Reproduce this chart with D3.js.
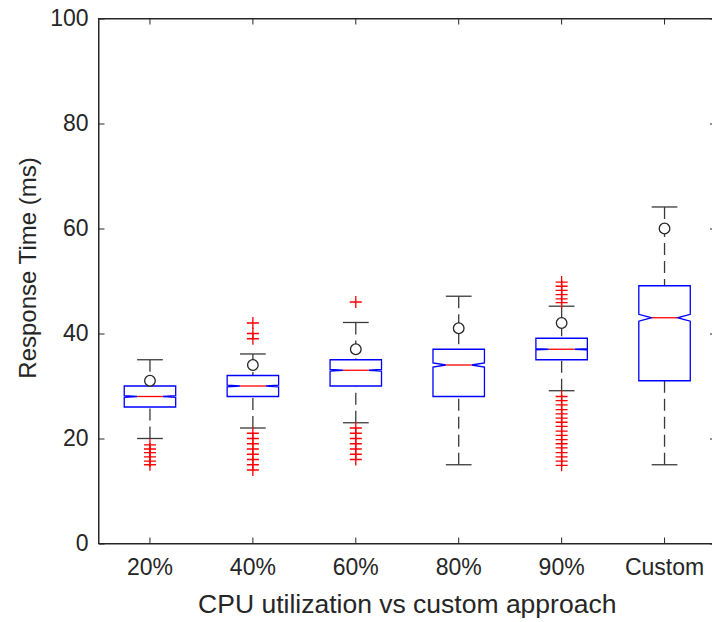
<!DOCTYPE html>
<html>
<head>
<meta charset="utf-8">
<script src="https://cdn.jsdelivr.net/npm/d3@7"></script>
<style>
  html, body { margin: 0; padding: 0; background: #fff; }
  svg { display: block; }
  text { font-family: "Liberation Sans", Arial, Helvetica, sans-serif; fill: #262626; }
</style>
</head>
<body>
<svg id="chart" width="712" height="622"></svg>
<script>
// ---- data ----
const categories = ["20%", "40%", "60%", "80%", "90%", "Custom"];
const q1Values      = [26, 28, 30, 28, 35, 31];
const medianValues  = [28, 30, 33, 34, 37, 43];
const q3Values      = [30, 32, 35, 37, 39.1, 49.1];
const notchLow      = [27.85, 29.85, 32.85, 33.6, 36.9, 42.35];
const notchHigh     = [28.15, 30.15, 33.15, 34.4, 37.1, 43.65];
const whiskerLow    = [20, 22, 23, 15, 29.1, 15];
const whiskerHigh   = [35, 36.1, 42.1, 47.1, 45.2, 64.1];
const meanValues    = [31, 34, 37, 41, 42, 60];
const outliers = [
  [18.8, 18.0, 17.3, 16.5, 15.7, 15.0],
  [42, 40, 39, 21, 20, 19, 18, 17, 16, 15, 14],
  [46, 22, 21, 20, 19, 18, 17, 16],
  [],
  [49.8, 49.0, 48.2, 47.4, 46.6, 45.9,
   28.0, 27.2, 26.4, 25.5, 24.7, 23.9, 23.1, 22.3, 21.4, 20.6, 19.8, 19.0, 18.2, 17.3, 16.5, 15.7, 14.9],
  []
];
const yTicks = [0, 20, 40, 60, 80, 100];
const xLabel = "CPU utilization vs custom approach";
const yLabel = "Response Time (ms)";

// ---- layout ----
const svg = d3.select("#chart");
const mLeft = 98.5, mRight = 716, mTop = 18.5, mBottom = 543.5;

const x = d3.scaleBand().domain(categories).range([mLeft, mRight]).paddingInner(0).paddingOuter(0);
const y = d3.scaleLinear().domain([0, 100]).range([mBottom, mTop]);
const cx = c => x(c) + x.bandwidth() / 2;
const boxW = x.bandwidth() * 0.5;
const capW = x.bandwidth() * 0.25;

const axisColor = "#262626";

// frame
svg.append("rect")
  .attr("x", mLeft).attr("y", mTop)
  .attr("width", mRight - mLeft).attr("height", mBottom - mTop)
  .attr("fill", "none").attr("stroke", axisColor).attr("stroke-width", 1);

// axes
const gL = svg.append("g").attr("transform", `translate(${mLeft},0)`)
  .call(d3.axisLeft(y).tickValues(yTicks).tickSize(-6).tickSizeOuter(0).tickPadding(10));
const gR = svg.append("g").attr("transform", `translate(${mRight},0)`)
  .call(d3.axisRight(y).tickValues(yTicks).tickSize(-6).tickSizeOuter(0).tickFormat(""));
const gB = svg.append("g").attr("transform", `translate(0,${mBottom})`)
  .call(d3.axisBottom(x).tickSize(-6).tickSizeOuter(0).tickPadding(15));
const gT = svg.append("g").attr("transform", `translate(0,${mTop})`)
  .call(d3.axisTop(x).tickSize(-6).tickSizeOuter(0).tickFormat(""));

[gL, gR, gB, gT].forEach(g => {
  g.select(".domain").attr("stroke", axisColor);
  g.selectAll(".tick line").attr("stroke", axisColor);
  g.selectAll(".tick text").attr("fill", axisColor)
    .style("font-family", '"Liberation Sans", Arial, sans-serif')
    .style("font-size", "23px");
});

// axis labels
svg.append("text")
  .attr("x", (mLeft + mRight) / 2).attr("y", 613)
  .attr("text-anchor", "middle")
  .style("font-size", "26.5px")
  .text(xLabel);
svg.append("text")
  .attr("transform", `translate(36,268) rotate(-90)`)
  .attr("text-anchor", "middle")
  .style("font-size", "24px")
  .text(yLabel);

// ---- boxes ----
const plot = svg.append("g");
categories.forEach((c, i) => {
  const xc = cx(c);
  const xl = xc - boxW / 2, xr = xc + boxW / 2;
  const ind = boxW / 4;
  const g = plot.append("g");

  // whiskers (dashed) drawn from caps toward box
  g.append("line")
    .attr("x1", xc).attr("x2", xc)
    .attr("y1", y(whiskerLow[i])).attr("y2", y(q1Values[i]))
    .attr("stroke", "#3a3a3a").attr("stroke-width", 1.3)
    .attr("stroke-dasharray", "12,6");
  g.append("line")
    .attr("x1", xc).attr("x2", xc)
    .attr("y1", y(whiskerHigh[i])).attr("y2", y(q3Values[i]))
    .attr("stroke", "#3a3a3a").attr("stroke-width", 1.3)
    .attr("stroke-dasharray", "12,6");
  // caps
  [whiskerLow[i], whiskerHigh[i]].forEach(v => {
    g.append("line")
      .attr("x1", xc - capW / 2).attr("x2", xc + capW / 2)
      .attr("y1", y(v)).attr("y2", y(v))
      .attr("stroke", "#3a3a3a").attr("stroke-width", 1.3);
  });

  // notched box
  const p = d3.path();
  p.moveTo(xl, y(q3Values[i]));
  p.lineTo(xl, y(notchHigh[i]));
  p.lineTo(xl + ind, y(medianValues[i]));
  p.lineTo(xl, y(notchLow[i]));
  p.lineTo(xl, y(q1Values[i]));
  p.lineTo(xr, y(q1Values[i]));
  p.lineTo(xr, y(notchLow[i]));
  p.lineTo(xr - ind, y(medianValues[i]));
  p.lineTo(xr, y(notchHigh[i]));
  p.lineTo(xr, y(q3Values[i]));
  p.closePath();
  g.append("path").attr("d", p.toString())
    .attr("fill", "none").attr("stroke", "#0000ff").attr("stroke-width", 1.3);

  // median
  g.append("line")
    .attr("x1", xl + ind).attr("x2", xr - ind)
    .attr("y1", y(medianValues[i])).attr("y2", y(medianValues[i]))
    .attr("stroke", "#ff0000").attr("stroke-width", 1.3);

  // outliers '+'
  const s = 6;
  outliers[i].forEach(v => {
    const yy = y(v);
    g.append("path")
      .attr("d", `M${xc - s},${yy}H${xc + s}M${xc},${yy - s}V${yy + s}`)
      .attr("stroke", "#ff0000").attr("stroke-width", 1.3).attr("fill", "none");
  });

  // mean circle
  g.append("circle")
    .attr("cx", xc).attr("cy", y(meanValues[i])).attr("r", 5.3)
    .attr("fill", "#fff").attr("stroke", "#262626").attr("stroke-width", 1.3);
});
</script>
</body>
</html>
